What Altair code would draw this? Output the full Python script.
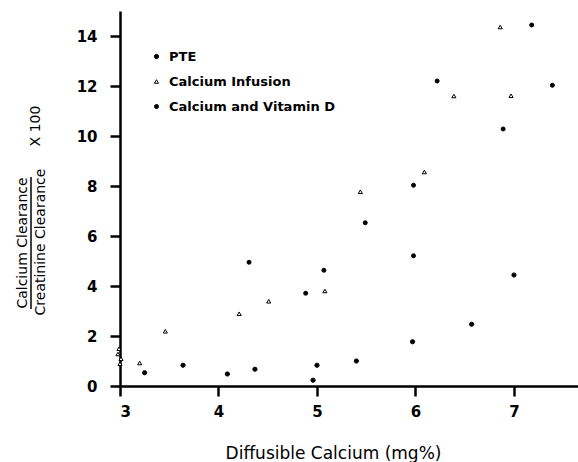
import altair as alt
import pandas as pd

# Series data
pte_x = [3.25, 3.64, 4.09, 4.37, 4.96, 5.00, 5.40, 5.97, 6.57, 7.00]
pte_y = [0.53, 0.83, 0.48, 0.67, 0.23, 0.83, 1.00, 1.77, 2.47, 4.44]

inf_x = [2.99, 2.98, 3.01, 3.00, 3.20, 3.46, 4.21, 4.51, 5.08, 5.44, 6.09, 6.39, 6.86, 6.97]
inf_y = [1.49, 1.28, 1.09, 0.89, 0.92, 2.19, 2.89, 3.39, 3.80, 7.77, 8.56, 11.60, 14.36, 11.61]

vit_x = [4.31, 4.885, 5.07, 5.49, 5.98, 5.98, 6.22, 6.89, 7.18, 7.39]
vit_y = [4.95, 3.71, 4.63, 6.53, 8.03, 5.21, 12.20, 10.28, 14.44, 12.03]

series_names = ["PTE", "Calcium Infusion", "Calcium and Vitamin D"]
x_ticks = [3, 4, 5, 6, 7]
y_ticks = [0, 2, 4, 6, 8, 10, 12, 14]

rows = []
for name, xs, ys in [(series_names[0], pte_x, pte_y),
                     (series_names[1], inf_x, inf_y),
                     (series_names[2], vit_x, vit_y)]:
    for a, b in zip(xs, ys):
        rows.append({"x": a, "y": b, "series": name})
df = pd.DataFrame(rows)
one = pd.DataFrame({"k": [0]})

FONT = "DejaVu Sans"

points = alt.Chart(df).mark_point(filled=True, stroke="black", strokeWidth=1, opacity=1).encode(
    x=alt.X("x:Q", scale=alt.Scale(domain=[3, 7.65], nice=False, zero=False),
            axis=alt.Axis(values=x_ticks, title="Diffusible Calcium (mg%)", titleX=213,
                          titleAnchor="middle", titleY=67, titleBaseline="middle")),
    y=alt.Y("y:Q", scale=alt.Scale(domain=[0, 15], nice=False),
            axis=alt.Axis(values=y_ticks, title=None)),
    shape=alt.Shape("series:N", scale=alt.Scale(domain=series_names,
                                                range=["circle", "triangle-up", "circle"]),
                    title=None,
                    legend=alt.Legend(orient="none", legendX=30, legendY=39,
                                      symbolStrokeColor="black", symbolStrokeWidth=1,
                                      labelLimit=400)),
    size=alt.Size("series:N", scale=alt.Scale(domain=series_names, range=[18, 16, 42]),
                  title=None),
    fill=alt.Fill("series:N", scale=alt.Scale(domain=series_names,
                                              range=["black", "white", "black"]),
                  title=None),
)

def vtext(txt, xv, yv):
    return alt.Chart(one).mark_text(angle=270, font=FONT, fontSize=14, align="center",
                                    baseline="middle", color="black").encode(
        x=alt.value(xv), y=alt.value(yv), text=alt.value(txt))

ytitle_top = vtext("Calcium Clearance", -97, 232)
ytitle_bot = vtext("Creatinine Clearance", -79, 231)
ytitle_x = vtext("X 100", -84, 115)
frac = alt.Chart(one).mark_rule(color="black", strokeWidth=1.5).encode(
    x=alt.value(-89), y=alt.value(166), y2=alt.value(298))

chart = alt.layer(points, ytitle_top, ytitle_bot, ytitle_x, frac).properties(
    width=458, height=375,
    autosize=alt.AutoSizeParams(type="none"),
    padding={"left": 120, "top": 11, "right": 0, "bottom": 76},
).configure_view(stroke=None).configure_axis(
    grid=False, domainColor="black", domainWidth=2.5, tickColor="black", tickWidth=2.5,
    tickSize=10, labelFont=FONT, labelFontSize=15, labelFontWeight="bold",
    labelColor="black", titleFont=FONT, titleFontSize=17, titleFontWeight="normal",
    titleColor="black"
).configure_axisY(labelPadding=13).configure_axisX(labelPadding=8).configure_legend(
    labelFont=FONT, labelFontSize=13, labelFontWeight="bold", labelColor="black",
    rowPadding=11, labelOffset=6, padding=0
)

chart.save("out.html", embed_options={"renderer": "svg", "actions": False})
